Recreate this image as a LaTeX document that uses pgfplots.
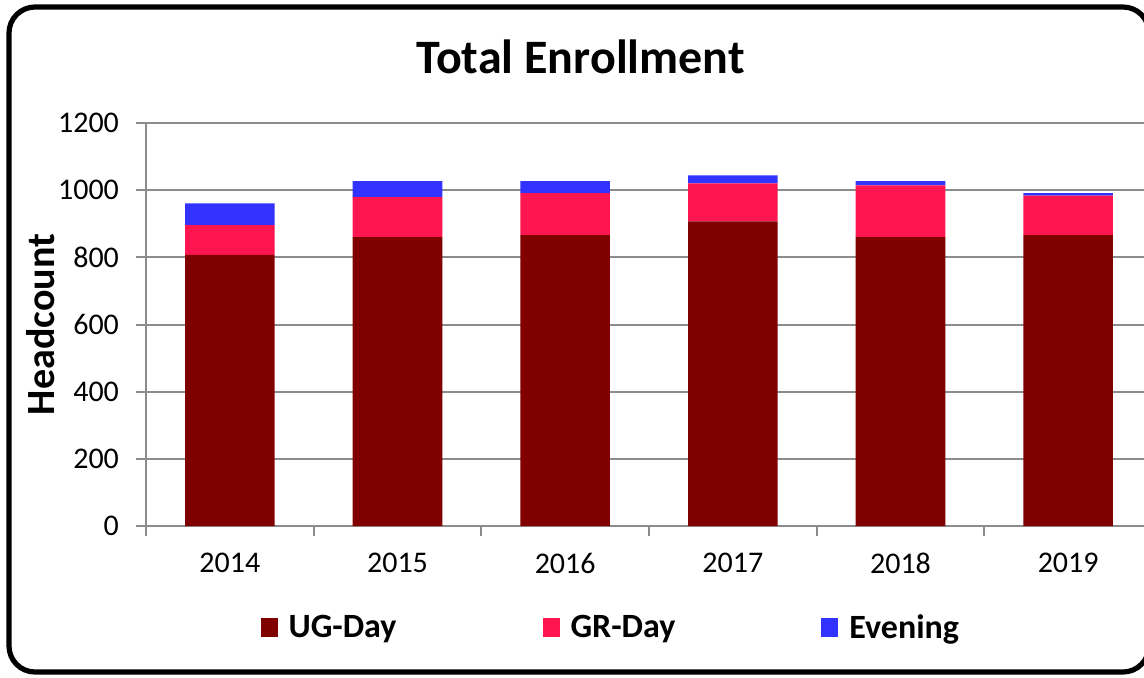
\documentclass[border=0pt]{standalone}
\usepackage{fontspec}
\setmainfont{Carlito}
\usepackage{pgfplots}
\pgfplotsset{compat=1.18}
\definecolor{ugc}{HTML}{800000}
\definecolor{grc}{HTML}{FF1650}
\definecolor{evc}{HTML}{3333FF}
\definecolor{gridc}{HTML}{8C8C8C}
\begin{document}
\begin{tikzpicture}
\useasboundingbox (0,0) rectangle (572pt,338.5pt);
\clip (0,0) rectangle (572pt,338.5pt);
\draw[line width=2.6pt, rounded corners=13pt] (4.5pt,2.5pt) rectangle (574.5pt,335pt);
\begin{axis}[
  at={(73pt,75.5pt)}, anchor=south west,
  scale only axis, width=503pt, height=201.5pt,
  ybar stacked, bar width=0.534,
  xmin=-0.5, xmax=5.5, ymin=0, ymax=1200,
  ytick={0,200,...,1200},
  xtick={-0.5,0.5,...,5.5}, xticklabels={},
  extra x ticks={0,1,2,3,4,5},
  extra x tick labels={2014,2015,2016,2017,2018,2019},
  extra x tick style={major tick length=0pt, grid=none},
  ymajorgrids, grid style={gridc, line width=1pt},
  axis line style={gridc, line width=1pt},
  axis x line*=bottom, axis y line*=left,
  tick align=outside, major tick length=5pt,
  tick style={gridc, line width=1pt},
  /pgf/number format/assume math mode=true,
  /pgf/number format/1000 sep={},
  tick label style={font=\fontsize{15}{17}\selectfont, black},
  yticklabel style={xshift=-5pt},
  xticklabel style={yshift=-10pt},
  ylabel={\textbf{Headcount}},
  ylabel style={font=\fontsize{20}{22}\selectfont, at={(-0.105,0.5)}, anchor=center},
  title={\textbf{Total Enrollment}},
  title style={font=\fontsize{24}{26}\selectfont, at={(0.432,1)}, anchor=center, yshift=27pt},
  legend columns=3,
  legend style={draw=none, fill=none, at={(0.463,-0.253)}, anchor=center,
    font=\fontsize{17}{19}\selectfont\bfseries,
    /tikz/every even column/.append style={column sep=71pt},
    nodes={inner sep=2pt}},
  legend image code/.code={\fill[#1] (0pt,-4.75pt) rectangle (8.5pt,4.75pt); \path (12pt,0pt);},
]
\addplot[fill=ugc, draw=none] coordinates {(0,807) (1,860) (2,866) (3,907) (4,860) (5,866)};
\addplot[fill=grc, draw=none] coordinates {(0,89) (1,119) (2,125) (3,113) (4,154) (5,118)};
\addplot[fill=evc, draw=none] coordinates {(0,65) (1,48) (2,36) (3,24) (4,13) (5,7)};
\legend{UG-Day,GR-Day,Evening}
\end{axis}
\end{tikzpicture}
\end{document}
